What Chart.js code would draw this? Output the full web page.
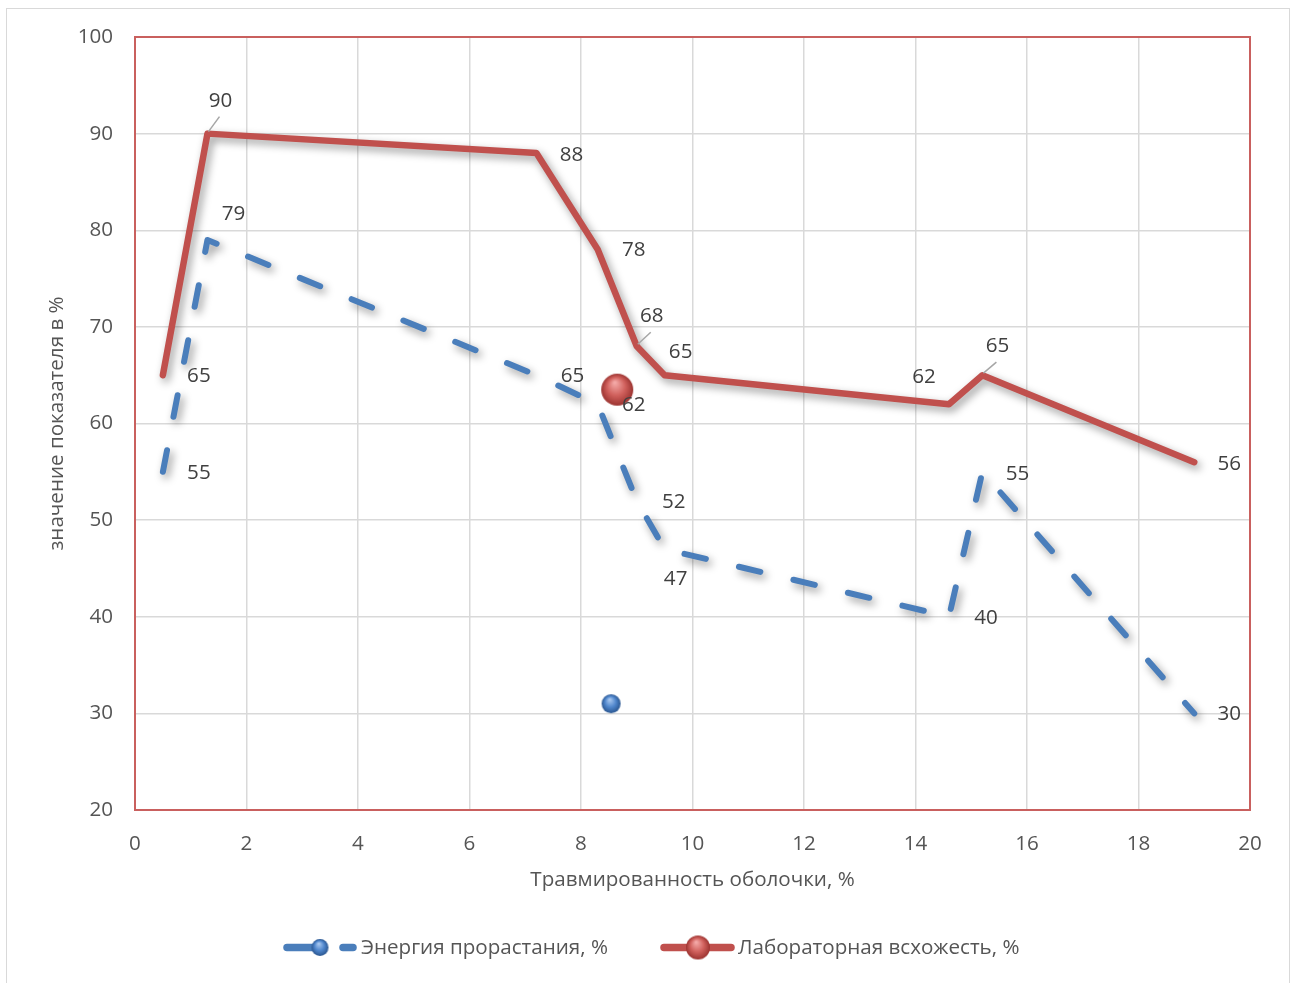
<!DOCTYPE html>
<html><head><meta charset="utf-8">
<script src="https://cdn.jsdelivr.net/npm/chart.js@4/dist/chart.umd.min.js"></script>
<style>
html,body{margin:0;padding:0;background:#fff;overflow:hidden}
#wrap{position:relative;width:1292px;height:983px}
#frame{position:absolute;left:6px;top:8px;width:1284px;height:1000px;border:1.5px solid #D9D9D9;box-sizing:border-box}
canvas{position:absolute;left:0;top:0}
</style></head><body>
<div id="wrap"><div id="frame"></div><canvas id="c" width="1292" height="983"></canvas></div>
<script>
// ---- data ----
const xValues = [0.5, 1.3, 7.2, 8.3, 9.0, 9.5, 14.6, 15.2, 19];
const energyValues = [55, 79, 65, 62, 52, 47, 40, 55, 30];
const germinationValues = [65, 90, 88, 78, 68, 65, 62, 65, 56];
const energyMarkerX = [8.54];
const energyMarkerY = [31];
const germinationMarkerX = [8.65];
const germinationMarkerY = [63.5];
const seriesNames = ['Энергия прорастания, %', 'Лабораторная всхожесть, %'];
const xTitle = 'Травмированность оболочки, %';
const yTitle = 'значение показателя в %';
const xTicks = [0, 2, 4, 6, 8, 10, 12, 14, 16, 18, 20];
const yTicks = [20, 30, 40, 50, 60, 70, 80, 90, 100];

// ---- styling ----
const FONT = '"Open Sans", "Noto Sans", sans-serif';
const FS = 20.6;
const BLUE = '#4A7EBB', RED = '#C0504D';
const TEXT = '#555555';
const energyLabelOffsets = [[36,1],[26,-26],[36,1],[36,1],[37,1],[11,30],[37,1],[35,2],[35,1]];
const germLabelOffsets = [[36,1],[13,-33],[35,2],[36,1],[15,-30],[16,-23],[-25,-27],[15,-29],[35,2]];
const germLeaders = [false,true,false,false,true,false,false,true,false];

function sphere(r, light, base, dark) {
  const c = document.createElement('canvas');
  const s = Math.ceil(2 * r + 4);
  c.width = s; c.height = s;
  const g = c.getContext('2d');
  const cx = s / 2, cy = s / 2;
  const grad = g.createRadialGradient(cx - r * 0.15, cy - r * 0.45, r * 0.05, cx, cy, r);
  grad.addColorStop(0, light);
  grad.addColorStop(0.55, base);
  grad.addColorStop(1, dark);
  g.beginPath(); g.arc(cx, cy, r, 0, Math.PI * 2); g.fillStyle = grad; g.fill();
  return c;
}
const redSphereBig = sphere(16, '#F4A9A7', '#D0605C', '#9C3431');
const blueSphereBig = sphere(9.5, '#A9C8F0', '#4F86CC', '#2A5690');
const redSphereLegend = sphere(12, '#F4A9A7', '#D0605C', '#9C3431');
const blueSphereLegend = sphere(8.5, '#A9C8F0', '#4F86CC', '#2A5690');

const toPts = (xs, ys) => xs.map((x, i) => ({x, y: ys[i]}));

const plotFrame = {
  id: 'plotFrame',
  beforeDatasetsDraw(chart) {
    const a = chart.chartArea, ctx = chart.ctx;
    ctx.save();
    ctx.strokeStyle = '#C9605E';
    ctx.lineWidth = 2;
    ctx.strokeRect(a.left, a.top, a.right - a.left, a.bottom - a.top);
    ctx.restore();
  }
};

const shadowPlugin = {
  id: 'shadowPlugin',
  beforeDatasetDraw(chart, args) {
    const ctx = chart.ctx;
    ctx.save();
    if (args.index < 2) {
      ctx.shadowColor = 'rgba(0,0,0,0.4)';
      ctx.shadowBlur = 8;
      ctx.shadowOffsetX = 3;
      ctx.shadowOffsetY = 4;
    }
  },
  afterDatasetDraw(chart) { chart.ctx.restore(); }
};

const labelPlugin = {
  id: 'labelPlugin',
  afterDatasetsDraw(chart) {
    const ctx = chart.ctx;
    ctx.save();
    ctx.font = FS + 'px ' + FONT;
    ctx.textAlign = 'center';
    ctx.textBaseline = 'middle';
    chart.data.datasets.forEach((ds, di) => {
      if (!ds.labelOffsets) return;
      const meta = chart.getDatasetMeta(di);
      meta.data.forEach((pt, i) => {
        const [dx, dy] = ds.labelOffsets[i];
        const lx = pt.x + dx, ly = pt.y + dy;
        if (ds.leaders && ds.leaders[i]) {
          ctx.strokeStyle = '#A6A6A6';
          ctx.lineWidth = 1.5;
          ctx.beginPath();
          ctx.moveTo(pt.x + 1, pt.y - 2);
          ctx.lineTo(lx - 1, ly + 16);
          ctx.stroke();
        }
        ctx.fillStyle = '#404040';
        ctx.fillText(String(ds.data[i].y), lx, ly);
      });
    });
    ctx.restore();
  }
};

const legendPlugin = {
  id: 'customLegend',
  afterDraw(chart) {
    const ctx = chart.ctx;
    const y = 947.5;
    ctx.save();
    ctx.lineCap = 'round';
    ctx.lineWidth = 7.5;
    ctx.strokeStyle = BLUE;
    ctx.beginPath(); ctx.moveTo(287, y); ctx.lineTo(316, y); ctx.stroke();
    ctx.beginPath(); ctx.moveTo(343, y); ctx.lineTo(353, y); ctx.stroke();
    ctx.drawImage(blueSphereLegend, 320 - blueSphereLegend.width / 2, y - blueSphereLegend.height / 2);
    ctx.strokeStyle = RED;
    ctx.beginPath(); ctx.moveTo(664, y); ctx.lineTo(731, y); ctx.stroke();
    ctx.drawImage(redSphereLegend, 698 - redSphereLegend.width / 2, y - redSphereLegend.height / 2);
    ctx.font = FS + 'px ' + FONT;
    ctx.fillStyle = TEXT;
    ctx.textAlign = 'left';
    ctx.textBaseline = 'middle';
    ctx.fillText(seriesNames[0], 361, y + 1);
    ctx.fillText(seriesNames[1], 738, y + 1);
    ctx.restore();
  }
};

const tickFont = {family: FONT, size: FS};

new Chart(document.getElementById('c'), {
  type: 'scatter',
  data: {
    datasets: [
      {
        label: seriesNames[0],
        data: toPts(xValues, energyValues),
        showLine: true,
        borderColor: BLUE,
        borderWidth: 6,
        borderDash: [22, 34],
        borderCapStyle: 'round',
        borderJoinStyle: 'round',
        tension: 0,
        pointRadius: 0,
        labelOffsets: energyLabelOffsets
      },
      {
        label: seriesNames[1],
        data: toPts(xValues, germinationValues),
        showLine: true,
        borderColor: RED,
        borderWidth: 6.5,
        borderCapStyle: 'round',
        borderJoinStyle: 'round',
        tension: 0,
        pointRadius: 0,
        labelOffsets: germLabelOffsets,
        leaders: germLeaders
      },
      {
        label: 'marker1',
        data: toPts(energyMarkerX, energyMarkerY),
        showLine: false,
        pointStyle: blueSphereBig,
        pointRadius: 9.5
      },
      {
        label: 'marker2',
        data: toPts(germinationMarkerX, germinationMarkerY),
        showLine: false,
        pointStyle: redSphereBig,
        pointRadius: 16
      }
    ]
  },
  options: {
    responsive: false,
    devicePixelRatio: 1,
    animation: false,
    layout: {padding: {left: 0, top: 37, right: 42, bottom: 91}},
    plugins: {legend: {display: false}, tooltip: {enabled: false}},
    scales: {
      x: {
        type: 'linear', min: 0, max: 20,
        afterBuildTicks: s => { s.ticks = xTicks.map(v => ({value: v})); },
        afterFit: s => { s.height = 82; },
        grid: {color: '#D9D9D9', lineWidth: 1.5, drawTicks: false},
        border: {display: false},
        ticks: {font: tickFont, color: TEXT, padding: 21.5, maxRotation: 0},
        title: {display: true, text: xTitle, font: tickFont, color: TEXT, padding: {top: 0, bottom: 0}}
      },
      y: {
        type: 'linear', min: 20, max: 100,
        afterBuildTicks: s => { s.ticks = yTicks.map(v => ({value: v})); },
        afterFit: s => { s.width = 135; },
        grid: {color: '#D9D9D9', lineWidth: 1.5, drawTicks: false},
        border: {display: false},
        ticks: {font: tickFont, color: TEXT, padding: 22},
        title: {display: true, text: yTitle, font: tickFont, color: TEXT, padding: {top: 44.5, bottom: 0}}
      }
    }
  },
  plugins: [plotFrame, shadowPlugin, labelPlugin, legendPlugin]
});
</script>
</body></html>
